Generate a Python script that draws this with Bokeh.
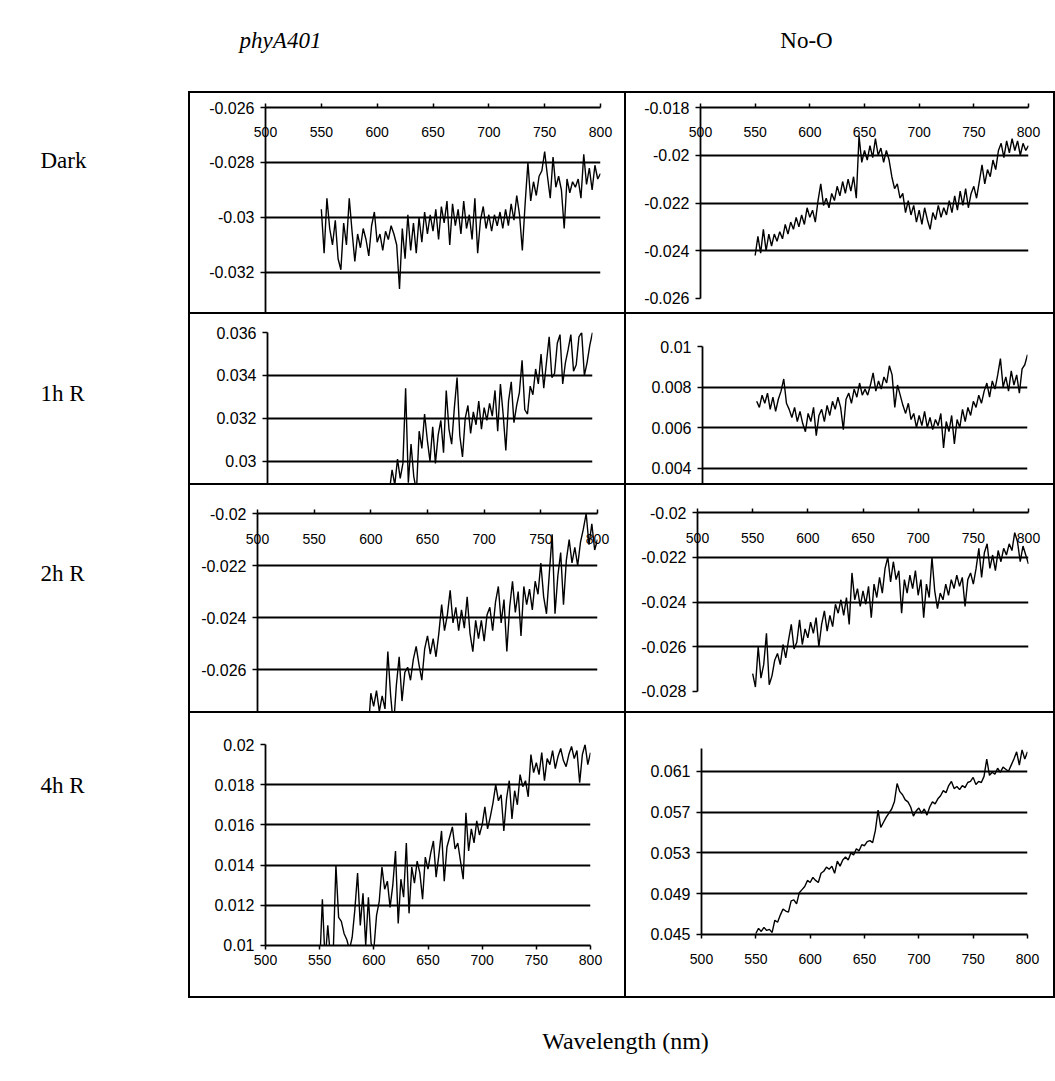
import numpy as np
from bokeh.plotting import figure
from bokeh.models import Range1d, FixedTicker, CustomJSTickFormatter, ColumnDataSource, Div
from bokeh.layouts import row, column
from bokeh.core.properties import value
from bokeh.embed import file_html
from bokeh.resources import INLINE

# ---------------- data (difference absorbance, values in units of 1e-3) ----------------
wavelength = [550 + 2.5 * i for i in range(101)]  # nm sampling grid

dark_phyA401 = [
    -29.7, -31.3, -29.3, -30.4, -31.0, -30.1, -31.5, -31.9, -30.2, -31.0,
    -29.3, -30.5, -31.6, -30.6, -31.1, -30.4, -30.8, -31.4, -30.3, -29.8,
    -30.9, -30.6, -31.2, -30.5, -30.8, -30.3, -30.6, -31.0, -32.6, -30.4,
    -31.5, -29.9, -31.2, -30.2, -31.3, -30.0, -30.9, -29.8, -30.6, -29.9,
    -30.5, -29.7, -30.8, -29.6, -30.2, -29.4, -31.0, -29.5, -30.3, -29.7,
    -30.6, -29.4, -30.4, -29.9, -30.8, -29.3, -31.3, -30.1, -29.6, -30.4,
    -29.9, -30.5, -29.9, -30.3, -29.8, -30.4, -29.7, -30.3, -29.5, -30.1,
    -29.2, -29.9, -31.2, -29.5, -28.0, -29.4, -28.7, -29.2, -28.5, -28.3,
    -27.6, -28.5, -29.3, -27.8, -28.9, -28.5, -29.0, -30.4, -28.6, -29.1,
    -28.7, -28.9, -28.6, -29.3, -27.7, -28.8, -28.2, -29.0, -28.1, -28.6,
    -28.4]

dark_noO = [
    -24.2, -23.4, -24.1, -23.1, -24.0, -23.3, -23.8, -23.3, -23.6, -23.2,
    -23.5, -22.9, -23.3, -22.8, -23.1, -22.6, -23.0, -22.5, -22.9, -22.2,
    -22.6, -22.3, -22.8, -21.9, -21.2, -22.1, -21.8, -22.2, -21.6, -21.9,
    -21.3, -21.7, -21.1, -21.6, -21.0, -21.5, -20.9, -21.8, -19.2, -20.3,
    -19.8, -20.2, -19.6, -20.1, -19.3, -20.0, -19.7, -20.3, -19.8, -20.2,
    -20.9, -21.4, -21.2, -21.8, -21.6, -22.4, -21.9, -22.5, -22.1, -22.8,
    -22.3, -22.9, -22.2, -22.7, -23.1, -22.4, -22.7, -22.1, -22.6, -22.2,
    -22.5, -21.9, -22.4, -21.7, -22.3, -21.5, -22.1, -21.4, -22.2, -21.6,
    -21.3, -21.8, -21.1, -20.4, -21.2, -20.6, -20.9, -20.2, -20.6, -19.8,
    -19.5, -20.1, -19.4, -19.9, -19.3, -19.8, -19.4, -20.0, -19.5, -19.8,
    -19.6]

h1_phyA401 = [
    28.3, 28.0, 28.5, 28.1, 28.4, 27.9, 28.3, 28.0, 28.5, 28.2,
    28.6, 28.1, 28.4, 28.2, 28.7, 28.3, 28.6, 28.2, 28.7, 28.4,
    28.8, 28.3, 28.7, 28.5, 28.8, 28.6, 29.6, 28.9, 30.1, 29.2,
    29.9, 33.4, 29.0, 30.8, 29.3, 28.6, 31.4, 30.6, 32.2, 31.0,
    30.0, 31.6, 29.9, 31.2, 31.9, 30.4, 33.3, 31.5, 30.8, 32.5,
    33.9, 31.2, 30.2, 32.0, 32.6, 31.3, 32.3, 31.7, 32.8, 31.5,
    32.5, 31.9, 32.7, 32.1, 33.3, 31.4, 33.6, 32.2, 30.5, 32.8,
    33.7, 31.8, 32.6, 33.2, 34.7, 32.4, 32.2, 33.5, 33.1, 34.3,
    33.6, 35.0, 33.4, 34.6, 35.8, 33.9, 34.1, 35.5, 35.9, 33.6,
    34.6, 35.2, 35.9, 34.2, 34.5, 35.8, 36.0, 34.0, 34.6, 35.4,
    36.0]

h1_noO = [
    7.3, 7.0, 7.6, 7.2, 7.7, 6.9, 7.5, 6.8, 7.4, 7.8,
    8.4, 7.2, 6.9, 6.5, 7.0, 6.3, 6.8, 6.2, 5.8, 6.7,
    6.3, 7.0, 5.6, 6.6, 6.9, 6.3, 7.1, 6.6, 7.3, 6.9,
    7.5, 7.0, 5.9, 7.4, 7.7, 7.2, 7.9, 7.5, 8.2, 7.6,
    7.9, 7.6, 8.1, 8.7, 7.8, 8.3, 7.9, 8.5, 8.2, 9.05,
    8.6, 7.0, 8.1, 7.6, 7.1, 6.7, 7.2, 6.4, 6.7, 6.0,
    6.6, 6.1, 6.8, 6.0, 6.5, 5.9, 6.4, 6.1, 6.7, 5.0,
    6.3, 5.8, 6.6, 5.2, 6.4, 6.0, 6.9, 6.3, 7.0, 6.6,
    7.3, 7.0, 7.6, 7.2, 7.8, 8.2, 7.5, 8.3, 7.9, 8.6,
    9.4, 8.0, 8.5, 7.8, 8.8, 8.1, 8.6, 7.7, 8.9, 9.1,
    9.6]

h2_phyA401 = [
    -29.5, -29.9, -29.3, -29.7, -29.2, -29.6, -29.0, -29.4, -28.9, -29.3,
    -28.8, -29.1, -28.6, -29.0, -28.5, -28.9, -28.3, -28.7, -28.2, -28.5,
    -26.9, -27.4, -26.8, -27.6, -27.0, -27.5, -25.3, -27.0, -28.2, -26.6,
    -25.5, -27.2, -26.1, -25.9, -26.4, -25.6, -25.1, -25.8, -26.4, -25.2,
    -24.7, -25.4, -24.8, -25.5, -24.6, -23.5, -24.5, -23.9, -22.95, -24.2,
    -23.6, -24.5, -23.7, -24.4, -23.2, -24.6, -25.3, -24.1, -24.8, -24.1,
    -24.9, -23.9, -23.6, -24.5, -23.4, -22.8, -24.2, -23.3, -25.3, -23.6,
    -22.6, -23.8, -23.0, -24.7, -22.8, -23.5, -22.9, -23.7, -22.6, -23.1,
    -21.9, -23.2, -23.85, -22.3, -20.8, -23.85, -22.4, -21.5, -23.5, -21.8,
    -21.0, -21.9, -21.3, -22.0, -21.1, -20.6, -20.0, -21.2, -20.4, -21.4,
    -21.0]

h2_noO = [
    -27.2, -27.8, -26.0, -27.4, -26.8, -25.4, -27.7, -27.3, -26.6, -26.3,
    -26.8, -25.9, -26.5, -25.7, -25.0, -26.1, -25.8, -24.8, -25.9, -25.2,
    -25.6, -24.9, -25.4, -24.7, -26.0, -25.0, -24.4, -25.3, -24.6, -25.1,
    -24.1, -24.5, -23.9, -24.6, -23.8, -25.0, -22.7, -23.9, -23.4, -24.2,
    -23.5, -24.1, -23.3, -24.7, -23.2, -23.8, -22.9, -23.6, -22.5, -22.0,
    -23.1, -22.2, -23.0, -22.6, -24.5, -23.0, -23.6, -22.8, -23.4, -22.6,
    -23.7, -23.0, -24.7, -23.2, -23.8, -22.0, -23.5, -24.3, -23.6, -23.9,
    -23.2, -23.7, -23.0, -23.4, -22.8, -23.3, -22.9, -24.2, -23.0, -22.7,
    -23.2, -22.5, -21.6, -22.9, -21.8, -21.4, -22.5, -21.9, -22.6, -21.7,
    -22.2, -21.6, -21.9, -21.4, -21.7, -20.9, -21.3, -22.2, -21.5, -21.9,
    -22.3]

h4_phyA401 = [
    9.0, 12.3, 9.2, 11.0, 9.4, 9.6, 14.0, 11.4, 11.2, 10.6,
    10.3, 9.8, 10.4, 11.8, 13.6, 11.0, 12.6, 10.0, 12.4, 10.1,
    9.8, 11.5, 12.2, 13.9, 12.8, 13.2, 11.9, 13.0, 14.7, 11.1,
    13.3, 12.4, 15.1, 11.6, 13.9, 13.1, 14.2, 13.6, 12.3, 14.4,
    13.8, 14.6, 15.2, 13.4, 14.5, 15.7, 13.2, 14.9, 15.4, 15.9,
    14.8, 15.1, 14.2, 13.3, 16.6, 14.7, 15.8, 15.1, 16.2, 15.5,
    16.0, 16.9, 15.8, 16.4, 17.1, 18.0, 17.2, 17.5, 15.7, 17.3,
    18.2, 16.3, 17.7, 17.0, 18.5, 17.9, 18.2, 17.4, 19.5, 18.6,
    19.1, 18.5, 19.6, 18.2, 19.3, 19.0, 19.7, 18.8, 19.4, 19.8,
    19.2, 18.9, 19.5, 19.9, 19.3, 19.7, 18.1, 19.5, 20.0, 19.0,
    19.6]

h4_noO = [
    45.1, 45.6, 45.3, 45.7, 45.4, 45.5, 45.2, 46.4, 46.2, 46.9,
    47.5, 47.3, 47.2, 48.3, 48.4, 48.0, 49.1, 49.4, 49.7, 50.3,
    50.1, 50.6, 50.3, 50.1, 51.0, 51.2, 51.6, 51.4, 51.7, 51.0,
    52.2, 51.7, 52.3, 52.6, 52.3, 53.0, 52.8, 53.4, 53.2, 53.8,
    53.7, 54.1, 54.2, 54.0, 55.2, 57.2, 55.5, 56.0, 56.5, 56.9,
    57.3, 58.0, 59.8, 59.0, 58.7, 58.2, 58.0, 57.5, 56.6, 57.1,
    57.4, 56.9, 57.3, 56.7, 57.5, 58.0, 57.8, 58.3, 58.6, 59.1,
    58.9, 59.6, 60.0, 59.3, 59.5, 59.2, 59.6, 59.4, 59.9, 60.0,
    60.4, 59.7, 60.0, 59.9, 60.5, 62.2, 60.6, 60.9, 60.7, 61.3,
    60.9, 61.4, 61.2, 61.0, 61.6, 62.2, 62.9, 61.6, 63.1, 62.2,
    62.9]

# ---------------- labels and ticks ----------------
column_titles = ["phyA401", "No-O"]
row_titles = ["Dark", "1h R", "2h R", "4h R"]
x_axis_title = "Wavelength (nm)"
x_ticks = [500, 550, 600, 650, 700, 750, 800]

yt_dark_phyA401 = [-0.026, -0.028, -0.03, -0.032]
yt_dark_noO = [-0.018, -0.02, -0.022, -0.024, -0.026]
yt_h1_phyA401 = [0.036, 0.034, 0.032, 0.03]
yt_h1_noO = [0.01, 0.008, 0.006, 0.004]
yt_h2_phyA401 = [-0.02, -0.022, -0.024, -0.026]
yt_h2_noO = [-0.02, -0.022, -0.024, -0.026, -0.028]
yt_h4_phyA401 = [0.02, 0.018, 0.016, 0.014, 0.012, 0.01]
yt_h4_noO = [0.061, 0.057, 0.053, 0.049, 0.045]

# ---------------- layout constants ----------------
W_TOTAL = 1055
LABEL_W = 188
SEP = 2
LEFT_W = 434
RIGHT_W = 427
HEADER_H = 91
FOOTER_H = 83
ROW_H = [219, 169, 226, 283]

SANS = "Liberation Sans"
SERIF = "Liberation Serif"

fmt = CustomJSTickFormatter(code="return String(parseFloat(tick.toFixed(6)));")


def panel(vals, yticks, ylo, yhi, w, h, borders, xloc, xstand=0):
    bl, br, bt, bb = borders
    p = figure(width=w, height=h, title=None,
               x_range=Range1d(500, 800), y_range=Range1d(ylo - 1e-9, yhi + 1e-9),
               output_backend="svg", toolbar_location=None,
               x_axis_location=xloc, y_axis_location="left",
               min_border_left=bl, min_border_right=br,
               min_border_top=bt, min_border_bottom=bb)
    p.outline_line_color = None
    p.xgrid.visible = False
    grid_ticks = [t for t in yticks if ylo + 1e-7 < t < yhi - 1e-7]
    p.ygrid.ticker = FixedTicker(ticks=grid_ticks)
    p.ygrid.grid_line_color = "black"
    p.ygrid.grid_line_width = 1.8
    p.ygrid.grid_line_alpha = 1.0

    ya = p.yaxis[0]
    ya.ticker = FixedTicker(ticks=yticks)
    ya.formatter = fmt
    ya.major_label_text_font = SANS
    ya.major_label_text_font_size = "16px"
    ya.major_label_text_color = "black"
    ya.major_label_standoff = 6
    ya.major_tick_out = 5
    ya.major_tick_in = 0
    ya.minor_tick_out = 0
    ya.minor_tick_in = 0
    ya.axis_line_width = 1.8
    ya.major_tick_line_width = 1.5

    if xloc is not None:
        xa = p.xaxis[0]
        xa.ticker = FixedTicker(ticks=x_ticks)
        xa.major_label_text_font = SANS
        xa.major_label_text_font_size = "14px"
        xa.major_label_text_color = "black"
        xa.major_tick_out = 4
        xa.major_tick_in = 0
        xa.minor_tick_out = 0
        xa.minor_tick_in = 0
        xa.axis_line_width = 1.8
        xa.major_tick_line_width = 1.5
        xa.major_label_standoff = xstand

    src = ColumnDataSource(dict(wl=wavelength, a=np.array(vals) * 1e-3))
    p.line(x="wl", y="a", source=src, line_color="black", line_width=1.4)
    return p


def text_fig(w, h):
    p = figure(width=w, height=h, title=None, x_range=Range1d(0, w), y_range=Range1d(h, 0),
               output_backend="svg", toolbar_location=None,
               x_axis_location=None, y_axis_location=None,
               min_border_left=0, min_border_right=0, min_border_top=0, min_border_bottom=0)
    p.outline_line_color = None
    p.grid.visible = False
    return p


def sep(w, h):
    return Div(width=w, height=h, margin=0, styles={"background-color": "black"})


p1 = panel(dark_phyA401, yt_dark_phyA401, -0.033455, -0.026, LEFT_W, ROW_H[0], (75, 24, 14, 0), "above", -33)
p2 = panel(dark_noO, yt_dark_noO, -0.026, -0.018, RIGHT_W, ROW_H[0], (74, 25, 14, 14), "above", -33)
p3 = panel(h1_phyA401, yt_h1_phyA401, 0.028963, 0.036, LEFT_W, ROW_H[1], (77, 32, 18, 0), None)
p4 = panel(h1_noO, yt_h1_noO, 0.003246, 0.01, RIGHT_W, ROW_H[1], (76, 26, 32, 0), None)
p5 = panel(h2_phyA401, yt_h2_phyA401, -0.0276, -0.02, LEFT_W, ROW_H[2], (67, 27, 28, 0), "above", -34)
p6 = panel(h2_noO, yt_h2_noO, -0.028, -0.02, RIGHT_W, ROW_H[2], (71, 25, 27, 20), "above", -34)
p7 = panel(h4_phyA401, yt_h4_phyA401, 0.01, 0.02, LEFT_W, ROW_H[3], (75, 34, 31, 51), "below", 5)
p8 = panel(h4_noO, yt_h4_noO, 0.045, 0.06323, RIGHT_W, ROW_H[3], (75, 26, 35, 62), "below", 15)

grid_w = SEP + LEFT_W + SEP + RIGHT_W + SEP
grid_children = [sep(grid_w, SEP)]
for (pl, pr), h in zip([(p1, p2), (p3, p4), (p5, p6), (p7, p8)], ROW_H):
    # each plot wrapped in its own column so that frames are not aligned across the row
    grid_children.append(row(sep(SEP, h), column(pl), sep(SEP, h), column(pr), sep(SEP, h)))
    grid_children.append(sep(grid_w, SEP))
grid = column(*grid_children)
grid_h = sum(ROW_H) + 5 * SEP

# header with column titles
header = text_fig(W_TOTAL, HEADER_H)
header.text(x=[280], y=[40], text=[column_titles[0]], text_font=value(SERIF),
            text_font_style="italic", text_font_size="23px", text_align="center",
            text_baseline="middle", text_color="black")
header.text(x=[806], y=[40], text=[column_titles[1]], text_font=value(SERIF),
            text_font_size="23px", text_align="center", text_baseline="middle", text_color="black")

# row labels
labels = text_fig(LABEL_W, grid_h)
label_y = [160 - HEADER_H, 393 - HEADER_H, 573 - HEADER_H, 785 - HEADER_H]
labels.text(x=[40] * 4, y=label_y, text=row_titles, text_font=value(SERIF),
            text_font_size="23px", text_align="left", text_baseline="middle", text_color="black")

footer = text_fig(W_TOTAL, FOOTER_H)
footer.text(x=[625], y=[42], text=[x_axis_title], text_font=value(SERIF),
            text_font_size="24px", text_align="center", text_baseline="middle", text_color="black")

page = column(header, row(labels, grid), footer)

with open("out.html", "w") as f:
    f.write(file_html(page, INLINE, title="phyA401 / No-O difference spectra"))
